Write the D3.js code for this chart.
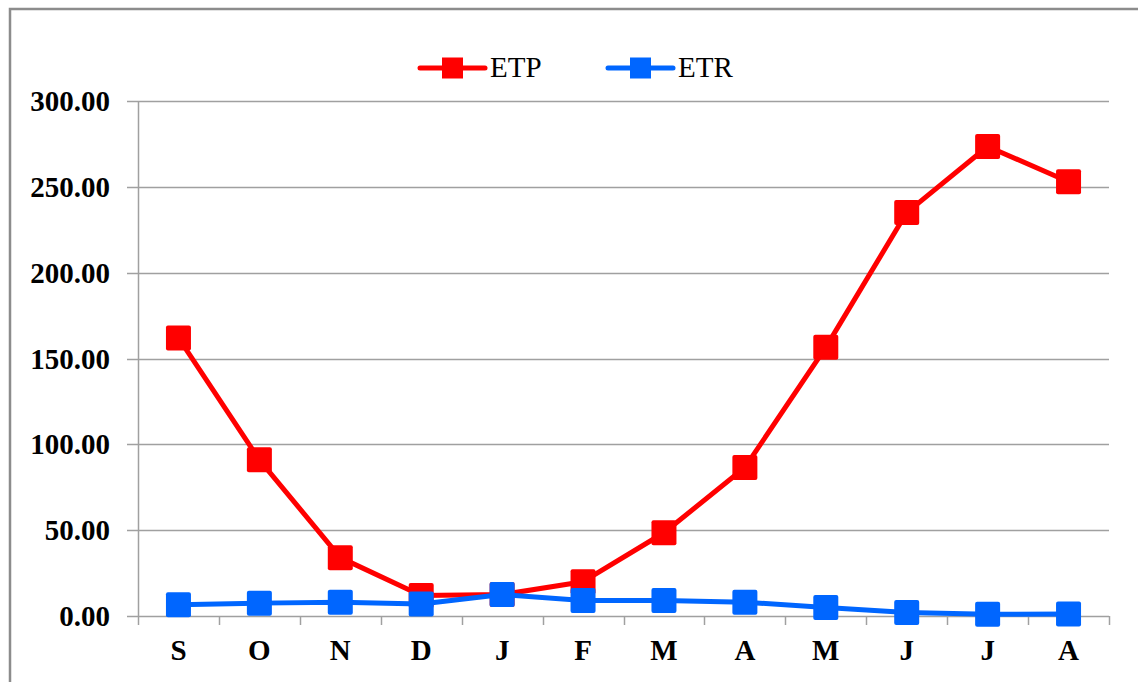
<!DOCTYPE html>
<meta charset="utf-8">
<title>ETP / ETR</title>
<style>
body { margin: 0; background: #fff; }
text { font-family: "Liberation Serif", "Times New Roman", serif; }
.axis-label { font-size: 29px; font-weight: bold; fill: #000; }
.legend text { font-size: 29px; fill: #000; }
</style>
<body>
<script src="https://d3js.org/d3.v7.min.js"></script>
<script>

// data
var months = ["S", "O", "N", "D", "J", "F", "M", "A", "M", "J", "J", "A"];
var etp = [162, 91, 34, 12, 12.5, 20, 48.5, 86.5, 156.5, 235, 273.5, 253];
var etr = [6.5, 7.5, 8, 7, 12.5, 9, 9, 8, 5, 2, 1, 1.2];
var yTicks = [0, 50, 100, 150, 200, 250, 300];

var width = 1138, height = 682;
var margin = {top: 101, right: 29, bottom: 66, left: 138};

var svg = d3.select("body").append("svg")
    .attr("width", width)
    .attr("height", height);

// outer frame (only the top and left show in the picture)
svg.append("rect")
    .attr("x", 10)
    .attr("y", 9)
    .attr("width", width + 20)
    .attr("height", height + 20)
    .style("fill", "none")
    .style("stroke", "#8c8c8c")
    .style("stroke-width", 2.5);

// scales
var x = d3.scaleBand()
    .domain(d3.range(months.length))
    .range([margin.left, width - margin.right]);

var y = d3.scaleLinear()
    .domain([0, 300])
    .range([height - margin.bottom, margin.top]);

// gridlines with small outer ticks on the left
svg.append("g").selectAll("line")
    .data(yTicks)
  .enter().append("line")
    .attr("x1", margin.left - 11)
    .attr("x2", width - margin.right)
    .attr("y1", function(d) { return Math.round(y(d)) + 0.5; })
    .attr("y2", function(d) { return Math.round(y(d)) + 0.5; })
    .style("stroke", "#a0a0a0")
    .style("stroke-width", 1.5);

// y axis line
svg.append("line")
    .attr("x1", margin.left + 0.5)
    .attr("x2", margin.left + 0.5)
    .attr("y1", y(300))
    .attr("y2", y(0))
    .style("stroke", "#a0a0a0")
    .style("stroke-width", 1.5);

// x ticks at band edges
var edges = d3.range(months.length + 1).map(function(i) {
  return margin.left + i * x.bandwidth();
});
svg.append("g").selectAll("line")
    .data(edges)
  .enter().append("line")
    .attr("x1", function(d) { return Math.round(d) + 0.5; })
    .attr("x2", function(d) { return Math.round(d) + 0.5; })
    .attr("y1", y(0))
    .attr("y2", y(0) + 9)
    .style("stroke", "#a0a0a0")
    .style("stroke-width", 1.5);

// y labels
svg.append("g").selectAll("text")
    .data(yTicks)
  .enter().append("text")
    .attr("class", "axis-label")
    .attr("x", 110)
    .attr("y", function(d) { return y(d); })
    .attr("dy", "0.35em")
    .attr("text-anchor", "end")
    .text(function(d) { return d3.format(".2f")(d); });

// x labels
svg.append("g").selectAll("text")
    .data(months)
  .enter().append("text")
    .attr("class", "axis-label")
    .attr("x", function(d, i) { return x(i) + x.bandwidth() / 2; })
    .attr("y", 660)
    .attr("text-anchor", "middle")
    .text(function(d) { return d; });

var series = [
  {name: "ETP", values: etp, color: "#ff0000"},
  {name: "ETR", values: etr, color: "#0066ff"}
];

var line = d3.line()
    .x(function(d, i) { return x(i) + x.bandwidth() / 2; })
    .y(function(d) { return y(d); });

var mk = 25;

series.forEach(function(s) {
  var g = svg.append("g");
  g.append("path")
      .datum(s.values)
      .attr("d", line)
      .style("fill", "none")
      .style("stroke", s.color)
      .style("stroke-width", 5)
      .style("stroke-linejoin", "round");
  g.selectAll("rect")
      .data(s.values)
    .enter().append("rect")
      .attr("x", function(d, i) { return x(i) + x.bandwidth() / 2 - mk / 2; })
      .attr("y", function(d) { return y(d) - mk / 2; })
      .attr("width", mk)
      .attr("height", mk)
      .attr("rx", 2)
      .style("fill", s.color);
});

// legend
var legendX = [420, 608];
var legend = svg.append("g").attr("class", "legend");
series.forEach(function(s, i) {
  var lx = legendX[i], ly = 68;
  legend.append("line")
      .attr("x1", lx)
      .attr("x2", lx + 65)
      .attr("y1", ly)
      .attr("y2", ly)
      .style("stroke", s.color)
      .style("stroke-width", 5)
      .style("stroke-linecap", "round");
  legend.append("rect")
      .attr("x", lx + 32.5 - 10.5)
      .attr("y", ly - 10.5)
      .attr("width", 21)
      .attr("height", 21)
      .style("fill", s.color);
  legend.append("text")
      .attr("x", lx + 70)
      .attr("y", 77)
      .text(s.name);
});

</script>
</body>
